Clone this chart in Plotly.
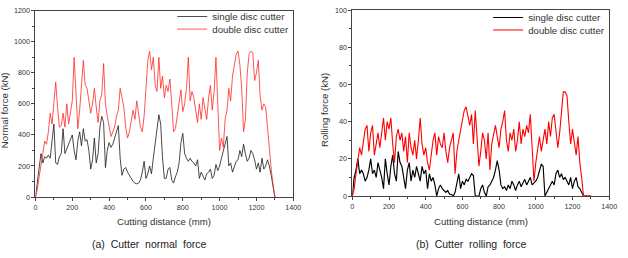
import plotly.graph_objects as go

# ---------------- data ----------------
distance = list(range(0, 1310, 10))  # Cutting distance (mm)

normal_single = [0, 100, 160, 280, 220, 260, 250, 270, 250, 350,
                 470, 220, 210, 260, 280, 440, 280, 310, 340, 380,
                 400, 300, 240, 360, 420, 330, 440, 360, 370, 300,
                 180, 240, 380, 220, 280, 450, 520, 480, 190, 300,
                 350, 320, 340, 380, 420, 460, 250, 140, 180, 190,
                 160, 140, 120, 100, 90, 85, 90, 110, 160, 230,
                 120, 150, 200, 150, 250, 350, 460, 530, 470, 250,
                 120, 120, 180, 190, 110, 90, 130, 160, 220, 350,
                 410, 280, 250, 230, 250, 230, 220, 200, 240, 120,
                 160, 130, 110, 150, 160, 180, 120, 140, 210, 170,
                 200, 250, 300, 360, 390, 200, 220, 160, 200, 230,
                 240, 300, 260, 340, 280, 230, 250, 300, 280, 240,
                 180, 220, 160, 250, 180, 200, 240, 200, 140, 60, 0]

normal_double = [0, 50, 130, 220, 280, 360, 340, 420, 540, 470,
                 620, 740, 580, 450, 460, 540, 450, 600, 470, 560,
                 620, 900, 620, 440, 560, 700, 880, 720, 700, 620,
                 540, 600, 700, 580, 480, 620, 660, 860, 600, 520,
                 440, 390, 420, 450, 520, 560, 700, 640, 580, 450,
                 380, 420, 500, 560, 500, 620, 540, 450, 420, 520,
                 700, 880, 940, 820, 900, 720, 680, 900, 700, 780,
                 640, 720, 680, 760, 600, 420, 440, 520, 620, 690,
                 550, 600, 700, 900, 620, 680, 640, 560, 480, 600,
                 500, 640, 560, 500, 640, 720, 560, 680, 900, 600,
                 300, 380, 320, 500, 560, 700, 620, 780, 860, 920,
                 940, 850, 700, 420, 500, 800, 920, 940, 930, 750,
                 800, 880, 650, 560, 600, 580, 450, 300, 180, 80, 0]

rolling_single = [0, 10, 14, 20, 12, 14, 12, 8, 10, 14,
                  20, 12, 14, 10, 18, 14, 10, 4, 20, 12,
                  6, 16, 22, 12, 8, 24, 18, 16, 10, 4,
                  14, 18, 8, 14, 10, 16, 12, 8, 16, 12,
                  14, 4, 12, 8, 10, 6, 0, 4, 6, 4,
                  3, 2, 3, 1, 1, 0, 2, 8, 12, 4,
                  8, 6, 9, 8, 10, 12, 11, 0, 0, 0,
                  4, 6, 2, 0, 5, 6, 8, 10, 14, 19,
                  14, 6, 4, 5, 3, 6, 4, 8, 6, 3,
                  6, 8, 5, 7, 9, 6, 8, 10, 6, 7,
                  8, 10, 14, 17, 16, 0, 2, 4, 6, 8,
                  6, 12, 14, 10, 12, 9, 10, 8, 6, 10,
                  4, 8, 10, 5, 4, 2, 0, 0, 0, 0, 0]

rolling_double = [0, 4, 12, 18, 26, 22, 30, 36, 38, 24,
                  34, 38, 22, 28, 34, 26, 36, 42, 30, 40,
                  36, 42, 28, 18, 32, 36, 30, 34, 24, 32,
                  18, 34, 26, 22, 30, 20, 30, 42, 28, 22,
                  26, 18, 14, 22, 30, 34, 22, 32, 28, 26,
                  34, 24, 18, 26, 30, 34, 12, 24, 30, 36,
                  40, 46, 48, 42, 38, 44, 28, 46, 30, 16,
                  24, 34, 30, 20, 34, 14, 28, 34, 38, 32,
                  26, 36, 40, 46, 30, 24, 34, 30, 36, 24,
                  30, 40, 28, 36, 32, 38, 34, 44, 22, 8,
                  18, 26, 32, 24, 30, 36, 28, 40, 32, 42,
                  44, 36, 26, 34, 46, 56, 56, 54, 40, 28,
                  36, 30, 22, 32, 18, 10, 0, 0, 0, 0, 0]

x_ticks = [0, 200, 400, 600, 800, 1000, 1200, 1400]
legend_names = ["single disc cutter", "double disc cutter"]
captions = ["(a)  Cutter  normal  force", "(b)  Cutter  rolling  force"]
y_titles = ["Normal force (kN)", "Rolling force (kN)"]
x_title = "Cutting distance (mm)"

# ---------------- figure ----------------
FONT = "Liberation Sans, Arial, sans-serif"
W, H = 628, 258
fig = go.Figure()

fig.add_trace(go.Scatter(x=distance, y=normal_single, mode="lines", name=legend_names[0],
                         line=dict(color="#1a1a1a", width=0.8), xaxis="x", yaxis="y", legend="legend"))
fig.add_trace(go.Scatter(x=distance, y=normal_double, mode="lines", name=legend_names[1],
                         line=dict(color="#ff2a2a", width=0.8), xaxis="x", yaxis="y", legend="legend2"))
fig.add_trace(go.Scatter(x=distance, y=rolling_single, mode="lines", name=legend_names[0],
                         line=dict(color="#000000", width=1.15), xaxis="x2", yaxis="y2", legend="legend3"))
fig.add_trace(go.Scatter(x=distance, y=rolling_double, mode="lines", name=legend_names[1],
                         line=dict(color="#ff0000", width=1.1), xaxis="x2", yaxis="y2", legend="legend4"))

axis_common = dict(showgrid=False, zeroline=False, showline=True, linecolor="#444", linewidth=1,
                   mirror=True, ticks="outside", ticklen=3, tickwidth=1, tickcolor="#444",
                   tickfont=dict(family=FONT, size=7.2, color="#333"))


def leg(xpx, ypx):
    return dict(x=xpx / W, y=1 - ypx / H, xanchor="left", yanchor="middle",
                bgcolor="rgba(0,0,0,0)", font=dict(family=FONT, size=9.7, color="#333"),
                itemwidth=30, tracegroupgap=0)


fig.update_layout(
    width=W, height=H, margin=dict(l=0, r=0, t=0, b=0),
    paper_bgcolor="white", plot_bgcolor="white",
    xaxis=dict(domain=[34 / W, 296 / W], range=[0, 1400], tickvals=x_ticks, anchor="y",
               minor=dict(ticks="outside", ticklen=2, dtick=100, tickcolor="#444"), **axis_common),
    yaxis=dict(domain=[1 - 200 / H, 1 - 7 / H], range=[0, 1200], dtick=200, anchor="x",
               minor=dict(ticks="outside", ticklen=2, dtick=100, tickcolor="#444"), **axis_common),
    xaxis2=dict(domain=[356 / W, 617 / W], range=[0, 1400], tickvals=x_ticks, anchor="y2",
                minor=dict(ticks="outside", ticklen=2, dtick=100, tickcolor="#444"), **axis_common),
    yaxis2=dict(domain=[1 - 199 / H, 1 - 6.3 / H], range=[0, 100], dtick=20, anchor="x2",
                minor=dict(ticks="outside", ticklen=2, dtick=10, tickcolor="#444"), **axis_common),
    legend=leg(173, 13),
    legend2=leg(173, 26),
    legend3=leg(494, 14),
    legend4=leg(494, 27),
    showlegend=True,
)

ann_font = dict(family=FONT, size=9.6, color="#333")
annotations = [
    dict(text=x_title, x=165 / W, y=1 - 225 / H, xref="paper", yref="paper", showarrow=False,
         xanchor="center", yanchor="middle", font=ann_font),
    dict(text=x_title, x=487 / W, y=1 - 225 / H, xref="paper", yref="paper", showarrow=False,
         xanchor="center", yanchor="middle", font=ann_font),
    dict(text=y_titles[0], x=2 / W, y=1 - 110 / H, xref="paper", yref="paper", showarrow=False,
         xanchor="center", yanchor="middle", textangle=-90, font=ann_font),
    dict(text=y_titles[1], x=327 / W, y=1 - 110 / H, xref="paper", yref="paper", showarrow=False,
         xanchor="center", yanchor="middle", textangle=-90, font=ann_font),
    dict(text=captions[0], x=150 / W, y=1 - 249 / H, xref="paper", yref="paper", showarrow=False,
         xanchor="center", yanchor="middle", font=dict(family=FONT, size=10.5, color="#222")),
    dict(text=captions[1], x=477 / W, y=1 - 249 / H, xref="paper", yref="paper", showarrow=False,
         xanchor="center", yanchor="middle", font=dict(family=FONT, size=10.5, color="#222")),
]
fig.update_layout(annotations=annotations)

fig.write_html("out.html")
